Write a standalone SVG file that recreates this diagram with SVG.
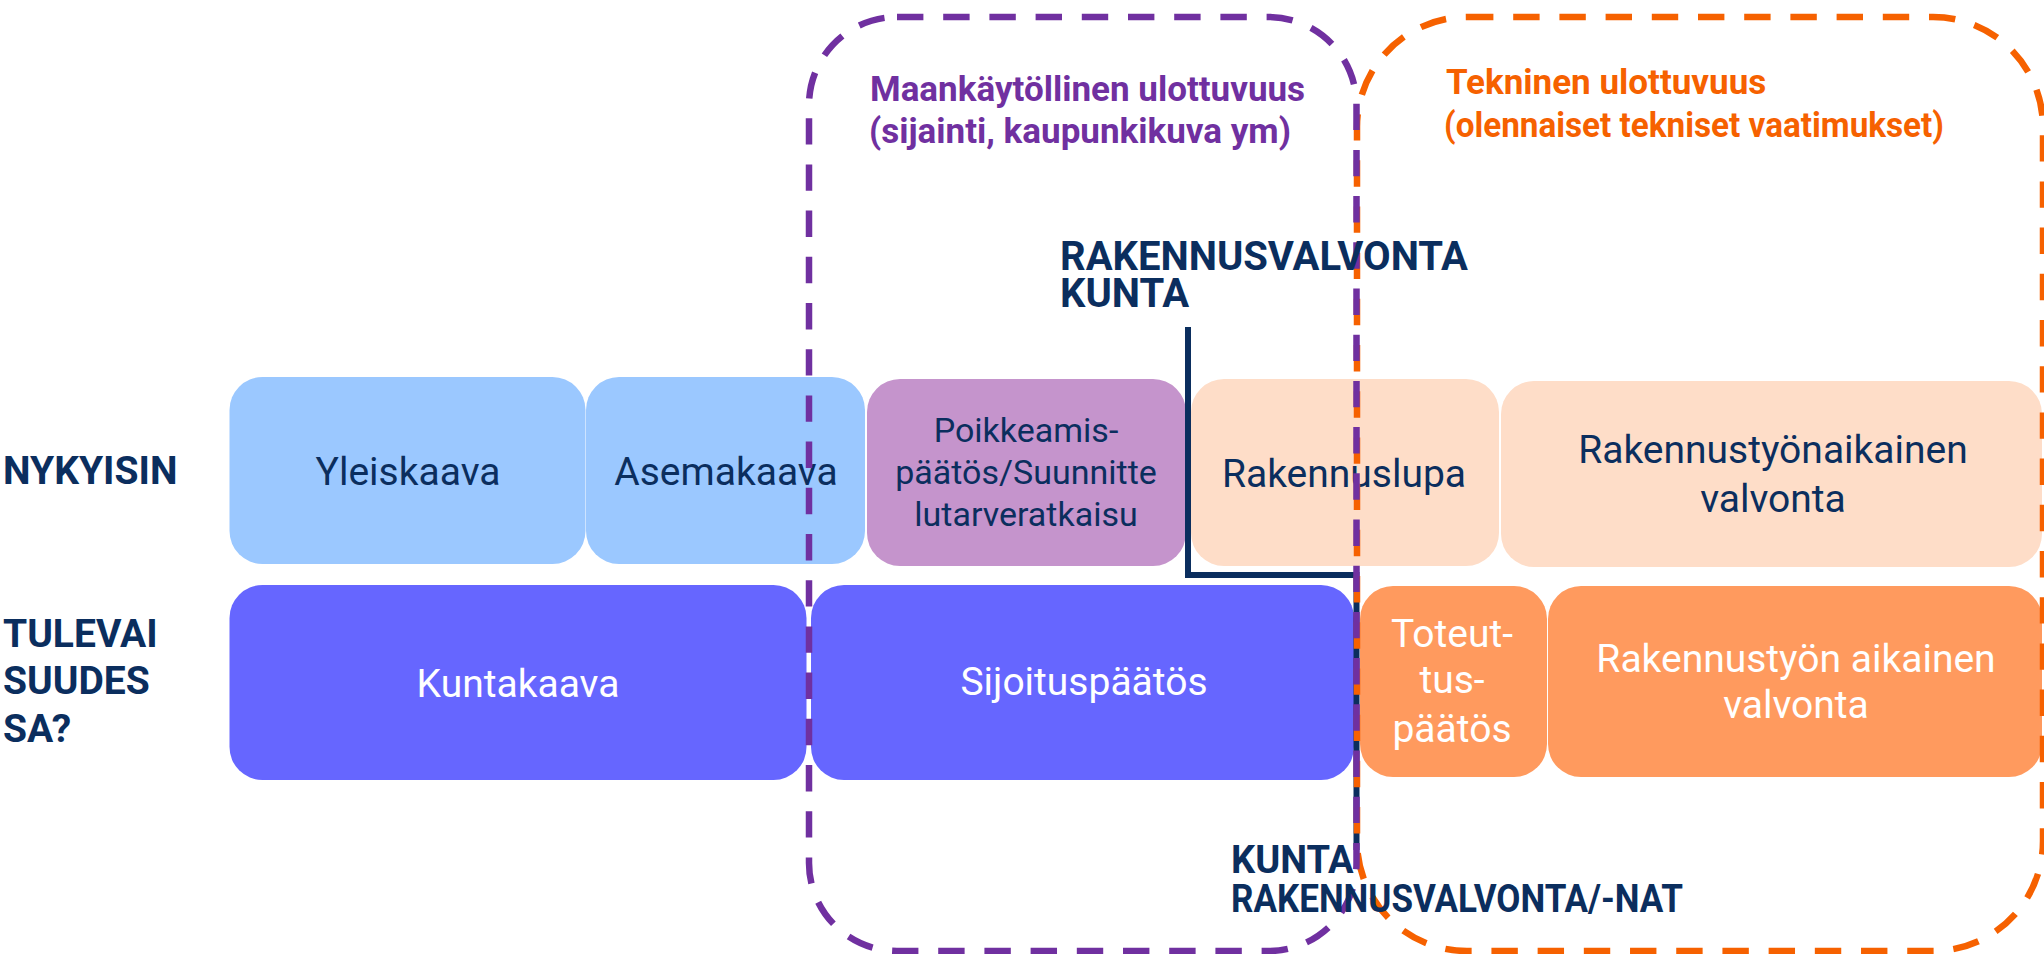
<svg xmlns="http://www.w3.org/2000/svg" width="2044" height="954" viewBox="0 0 2044 954">
<style>
text{font-family:Roboto,"Liberation Sans",Arial,sans-serif}
.t{font-size:39px;fill:#0B2E5E;text-anchor:middle}
.tw{font-size:39px;fill:#FFFFFF;text-anchor:middle}
.lbl{font-size:39px;font-weight:700;fill:#0B2E5E}
.hd{font-size:39px;font-weight:700;fill:#0B2E5E}
.ttl-p{font-size:35px;font-weight:700;fill:#7030A0}
.ttl-o{font-size:35px;font-weight:700;fill:#F66100}
.lb{fill:#9BC8FF}.li{fill:#C594CC}.pe{fill:#FEDDC8}.pw{fill:#6666FF}.or{fill:#FF9A5E}
.dash{fill:none;stroke-width:6.5;stroke-dasharray:26.4 19.8}
.conn{fill:none;stroke:#0B2E5E;stroke-width:6}
</style>
<rect width="2044" height="954" fill="#FFFFFF"/>

<g id="row-labels">
<text class="lbl" x="3" y="484">NYKYISIN</text>
<text class="lbl" x="3" y="647">TULEVAI</text>
<text class="lbl" x="3" y="694">SUUDES</text>
<text class="lbl" x="3" y="742">SA?</text>
</g>

<g id="yleiskaava"><rect class="lb" x="229.5" y="377" width="356" height="187" rx="33"/><text class="t" x="408" y="485">Yleiskaava</text></g>
<g id="asemakaava"><rect class="lb" x="586" y="377" width="279" height="187" rx="33"/><text class="t" x="726" y="485">Asemakaava</text></g>
<g id="poikkeamis"><rect class="li" x="867" y="379" width="319" height="187" rx="33"/>
<text class="t" style="font-size:34px" x="1026" y="442">Poikkeamis-</text>
<text class="t" style="font-size:34px" x="1026" y="484">päätös/Suunnitte</text>
<text class="t" style="font-size:34px" x="1026" y="526">lutarveratkaisu</text></g>
<g id="rakennuslupa"><rect class="pe" x="1191" y="379" width="308" height="187" rx="33"/><text class="t" x="1344" y="487">Rakennuslupa</text></g>
<g id="rakennustyonaikainen"><rect class="pe" x="1501" y="381" width="541" height="186" rx="33"/>
<text class="t" x="1773" y="463">Rakennustyönaikainen</text><text class="t" x="1773" y="512">valvonta</text></g>

<g id="kuntakaava"><rect class="pw" x="229.5" y="585" width="577" height="195" rx="33"/><text class="tw" x="518" y="697">Kuntakaava</text></g>
<g id="sijoituspaatos"><rect class="pw" x="811" y="585" width="543" height="195" rx="33"/><text class="tw" x="1084" y="695">Sijoituspäätös</text></g>
<g id="toteutuspaatos"><rect class="or" x="1360" y="586" width="187" height="191" rx="33"/>
<text class="tw" x="1452" y="647">Toteut-</text><text class="tw" x="1452" y="693">tus-</text><text class="tw" x="1452" y="742">päätös</text></g>
<g id="rakennustyon-aikainen"><rect class="or" x="1548" y="586" width="494" height="191" rx="33"/>
<text class="tw" x="1796" y="672">Rakennustyön aikainen</text><text class="tw" x="1796" y="718">valvonta</text></g>

<g id="connectors">
<path class="conn" d="M1188 327 V575 H1356.5 V850"/>
</g>

<g id="tekninen-ulottuvuus">
<rect class="dash" stroke="#F66100" x="1357" y="17" width="686" height="934" rx="110"/>
<text class="ttl-o" x="1446" y="94">Tekninen ulottuvuus</text>
<text class="ttl-o" x="1444" y="137" textLength="500" lengthAdjust="spacingAndGlyphs">(olennaiset tekniset vaatimukset)</text>
</g>
<g id="maankaytollinen-ulottuvuus">
<rect class="dash" stroke="#7030A0" x="809" y="17" width="547.5" height="934" rx="88"/>
<text class="ttl-p" x="870" y="101">Maankäytöllinen ulottuvuus</text>
<text class="ttl-p" x="869" y="143">(sijainti, kaupunkikuva ym)</text>
</g>

<g id="label-top">
<text class="hd" style="font-size:40px" x="1060" y="270">RAKENNUSVALVONTA</text>
<text class="hd" style="font-size:40px" x="1060" y="307">KUNTA</text>
</g>
<g id="label-bottom">
<text class="hd" style="font-size:38px" x="1231" y="873">KUNTA</text>
<text class="hd" style="font-size:38px" x="1231" y="912" textLength="452" lengthAdjust="spacingAndGlyphs">RAKENNUSVALVONTA/-NAT</text>
</g>
</svg>
